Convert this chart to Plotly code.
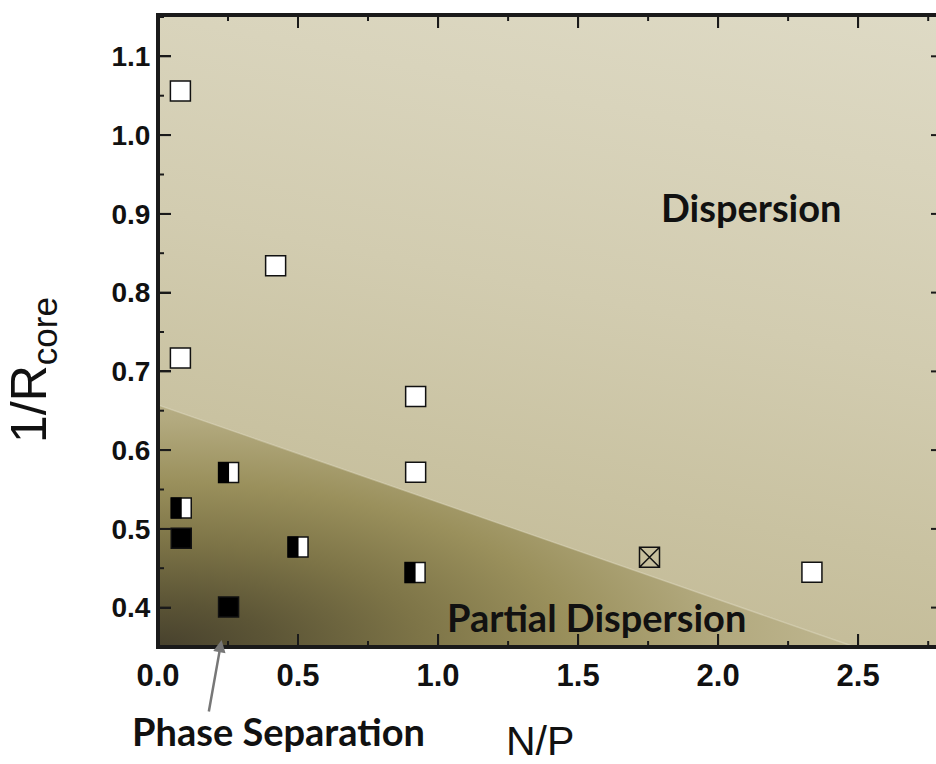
import base64
import plotly.graph_objects as go

# ---------------- data ----------------
open_x = [0.08, 0.42, 0.08, 0.92, 0.92, 2.335]
open_y = [1.056, 0.834, 0.717, 0.668, 0.572, 0.445]

half_x = [0.252, 0.083, 0.50, 0.918]
half_y = [0.5715, 0.5265, 0.477, 0.4445]

full_x = [0.083, 0.252]
full_y = [0.488, 0.4008]

cross_x = [1.755]
cross_y = [0.464]

x_ticks = [0.0, 0.5, 1.0, 1.5, 2.0, 2.5]
y_ticks = [0.4, 0.5, 0.6, 0.7, 0.8, 0.9, 1.0, 1.1]

region_labels = ["Dispersion", "Partial Dispersion", "Phase Separation"]

# ---------------- layout geometry ----------------
W, H = 936, 764
ML, MR, MT, MB = 158, 0, 15, 117
PW, PH = W - ML - MR, H - MT - MB
XR = [0, 2.778]
YR = [0.35, 1.1525]
AX = "#1a1a1a"

xstep = x_ticks[1] - x_ticks[0]
ystep = y_ticks[1] - y_ticks[0]
x_minor = [v + xstep / 2 for v in x_ticks]
y_minor = [v - ystep / 2 for v in y_ticks] + [y_ticks[-1] + ystep / 2]


def sx(v):
    return (v - XR[0]) / (XR[1] - XR[0]) * PW


def sy(v):
    return (YR[1] - v) / (YR[1] - YR[0]) * PH


# frame and tick marks inside the background picture (same linear scale as the axes)
frame = []
for v in x_ticks + x_minor:
    ln = 13 if v in x_ticks else 6
    X = sx(v)
    if 0 <= X <= PW:
        frame.append(f"<line x1='{X:.1f}' y1='{PH}' x2='{X:.1f}' y2='{PH-ln}' stroke='{AX}' stroke-width='2'/>")
        frame.append(f"<line x1='{X:.1f}' y1='0' x2='{X:.1f}' y2='{ln}' stroke='{AX}' stroke-width='2'/>")
for v in y_ticks + y_minor:
    major = v in y_ticks
    Y = sy(v)
    if 0 <= Y <= PH:
        frame.append(f"<line x1='0' y1='{Y:.1f}' x2='{13 if major else 6}' y2='{Y:.1f}' stroke='{AX}' stroke-width='2'/>")
        if major:
            frame.append(f"<line x1='{PW}' y1='{Y:.1f}' x2='{PW-5}' y2='{Y:.1f}' stroke='{AX}' stroke-width='2'/>")
frame.append(f"<rect x='0' y='0' width='2' height='{PH}' fill='{AX}'/>")
frame.append(f"<rect x='0' y='{PH-2}' width='{PW}' height='2' fill='{AX}'/>")
frame.append(f"<rect x='0' y='0' width='{PW}' height='2' fill='{AX}'/>")
frame_svg = "\n".join(frame)

# ---------------- background (gradient regions) ----------------
svg = f"""<svg xmlns='http://www.w3.org/2000/svg' width='{PW}' height='{PH}' viewBox='0 0 {PW} {PH}' preserveAspectRatio='none'>
<defs>
<linearGradient id='u' gradientUnits='userSpaceOnUse' x1='{PW}' y1='0' x2='{PW-151}' y2='751'>
<stop offset='0' stop-color='#dedac5'/>
<stop offset='0.2' stop-color='#d9d4bc'/>
<stop offset='0.45' stop-color='#d2ccb0'/>
<stop offset='0.7' stop-color='#c9c2a1'/>
<stop offset='1' stop-color='#bfb690'/>
</linearGradient>
<radialGradient id='l' gradientUnits='userSpaceOnUse' cx='0' cy='{PH}' r='750' gradientTransform='matrix(1 0 0 0.4 0 {PH*0.6})'>
<stop offset='0' stop-color='#47412d'/>
<stop offset='0.15' stop-color='#5c5536'/>
<stop offset='0.35' stop-color='#7d7447'/>
<stop offset='0.55' stop-color='#9a905c'/>
<stop offset='0.75' stop-color='#b2a97e'/>
<stop offset='1' stop-color='#c4bc98'/>
</radialGradient>
</defs>
<rect x='0' y='0' width='{PW}' height='{PH}' fill='url(#u)'/>
<polygon points='0,390 697,{PH} 0,{PH}' fill='url(#l)'/>
<line x1='0' y1='390' x2='697' y2='{PH}' stroke='#f2eedf' stroke-opacity='0.3' stroke-width='1.5'/>
{frame_svg}
</svg>"""
src = "data:image/svg+xml;base64," + base64.b64encode(svg.encode()).decode()

fig = go.Figure()

mk_line = dict(color="#111111", width=1.5)
fig.add_trace(go.Scatter(x=open_x, y=open_y, mode="markers",
                         marker=dict(symbol="square", size=20, color="white", line=mk_line),
                         hoverinfo="skip", showlegend=False))
fig.add_trace(go.Scatter(x=half_x, y=half_y, mode="markers",
                         marker=dict(symbol="square", size=20, color="white", line=mk_line),
                         hoverinfo="skip", showlegend=False))
fig.add_trace(go.Scatter(x=full_x, y=full_y, mode="markers",
                         marker=dict(symbol="square", size=20, color="black", line=mk_line),
                         hoverinfo="skip", showlegend=False))
fig.add_trace(go.Scatter(x=cross_x, y=cross_y, mode="markers",
                         marker=dict(symbol="square-x-open", size=20, color="#111111",
                                     line=dict(color="#111111", width=1.5)),
                         hoverinfo="skip", showlegend=False))

# black left halves of the half-filled markers
for xv, yv in zip(half_x, half_y):
    fig.add_shape(type="rect", xref="x", yref="y",
                  xsizemode="pixel", ysizemode="pixel",
                  xanchor=xv, yanchor=yv, x0=-10.5, x1=0.5, y0=-10.5, y1=10.5,
                  fillcolor="black", line=dict(width=0), layer="above")

fig.add_layout_image(dict(source=src, xref="x", yref="y", x=XR[0], y=YR[1],
                          sizex=XR[1] - XR[0], sizey=YR[1] - YR[0],
                          xanchor="left", yanchor="top",
                          sizing="stretch", layer="below"))

tickfont_y = dict(family="Liberation Sans, Arial, sans-serif", size=28, color="#111111", weight="bold")
tickfont_x = dict(family="Liberation Sans, Arial, sans-serif", size=31, color="#111111", weight="bold")

axis_common = dict(showgrid=False, zeroline=False, showline=True, linecolor=AX, linewidth=2,
                   ticks="inside", tickcolor=AX, tickwidth=2, ticklen=13)

fig.update_layout(
    width=W, height=H,
    margin=dict(l=ML, r=MR, t=MT, b=MB, pad=0),
    paper_bgcolor="white", plot_bgcolor="#d2ccb0",
    xaxis=dict(range=XR, tickmode="linear", tick0=x_ticks[0], dtick=xstep,
               tickformat=".1f", tickfont=tickfont_x, ticklabelstandoff=0, mirror="ticks",
               **axis_common),
    yaxis=dict(range=YR, tickmode="linear", tick0=y_ticks[0], dtick=round(ystep, 3),
               tickformat=".1f", tickfont=tickfont_y,
               **axis_common),
)

def px2paper(px, py):
    return (px - ML) / PW, (MT + PH - py) / PH

label_font = dict(family="Lato, Open Sans, sans-serif", size=38, color="#111111", weight="bold")

x, y = px2paper(751, 207)
fig.add_annotation(text=region_labels[0], x=x, y=y, xref="paper", yref="paper",
                   showarrow=False, font=label_font, xanchor="center", yanchor="middle")
x, y = px2paper(596, 617)
fig.add_annotation(text=region_labels[1], x=x, y=y, xref="paper", yref="paper",
                   showarrow=False, font=label_font, xanchor="center", yanchor="middle")
x, y = px2paper(278, 731)
fig.add_annotation(text=region_labels[2], x=x, y=y, xref="paper", yref="paper",
                   showarrow=False, font=label_font, xanchor="center", yanchor="middle")

# arrow pointing to the phase separation region
fig.add_annotation(text="", x=0.227, y=0.359, xref="x", yref="y", showarrow=True,
                   ax=-13, ay=73, arrowhead=2, arrowsize=1, arrowwidth=2.5,
                   arrowcolor="#777777", standoff=0, startstandoff=0)

# axis titles
x, y = px2paper(540, 741)
fig.add_annotation(text="N/P", x=x, y=y, xref="paper", yref="paper", showarrow=False,
                   font=dict(family="Liberation Sans Narrow, Arial Narrow, Liberation Sans, sans-serif",
                             size=41, color="#111111"),
                   xanchor="center", yanchor="middle")
x, y = px2paper(32, 370)
fig.add_annotation(text="1/R<sub>core</sub>", x=x, y=y, xref="paper", yref="paper", showarrow=False,
                   textangle=-90,
                   font=dict(family="Liberation Sans, Arial, sans-serif", size=50, color="#111111"),
                   xanchor="center", yanchor="middle")

fig.write_html("out.html", config={"displayModeBar": False},
               post_script="document.body.style.margin='0px';")
